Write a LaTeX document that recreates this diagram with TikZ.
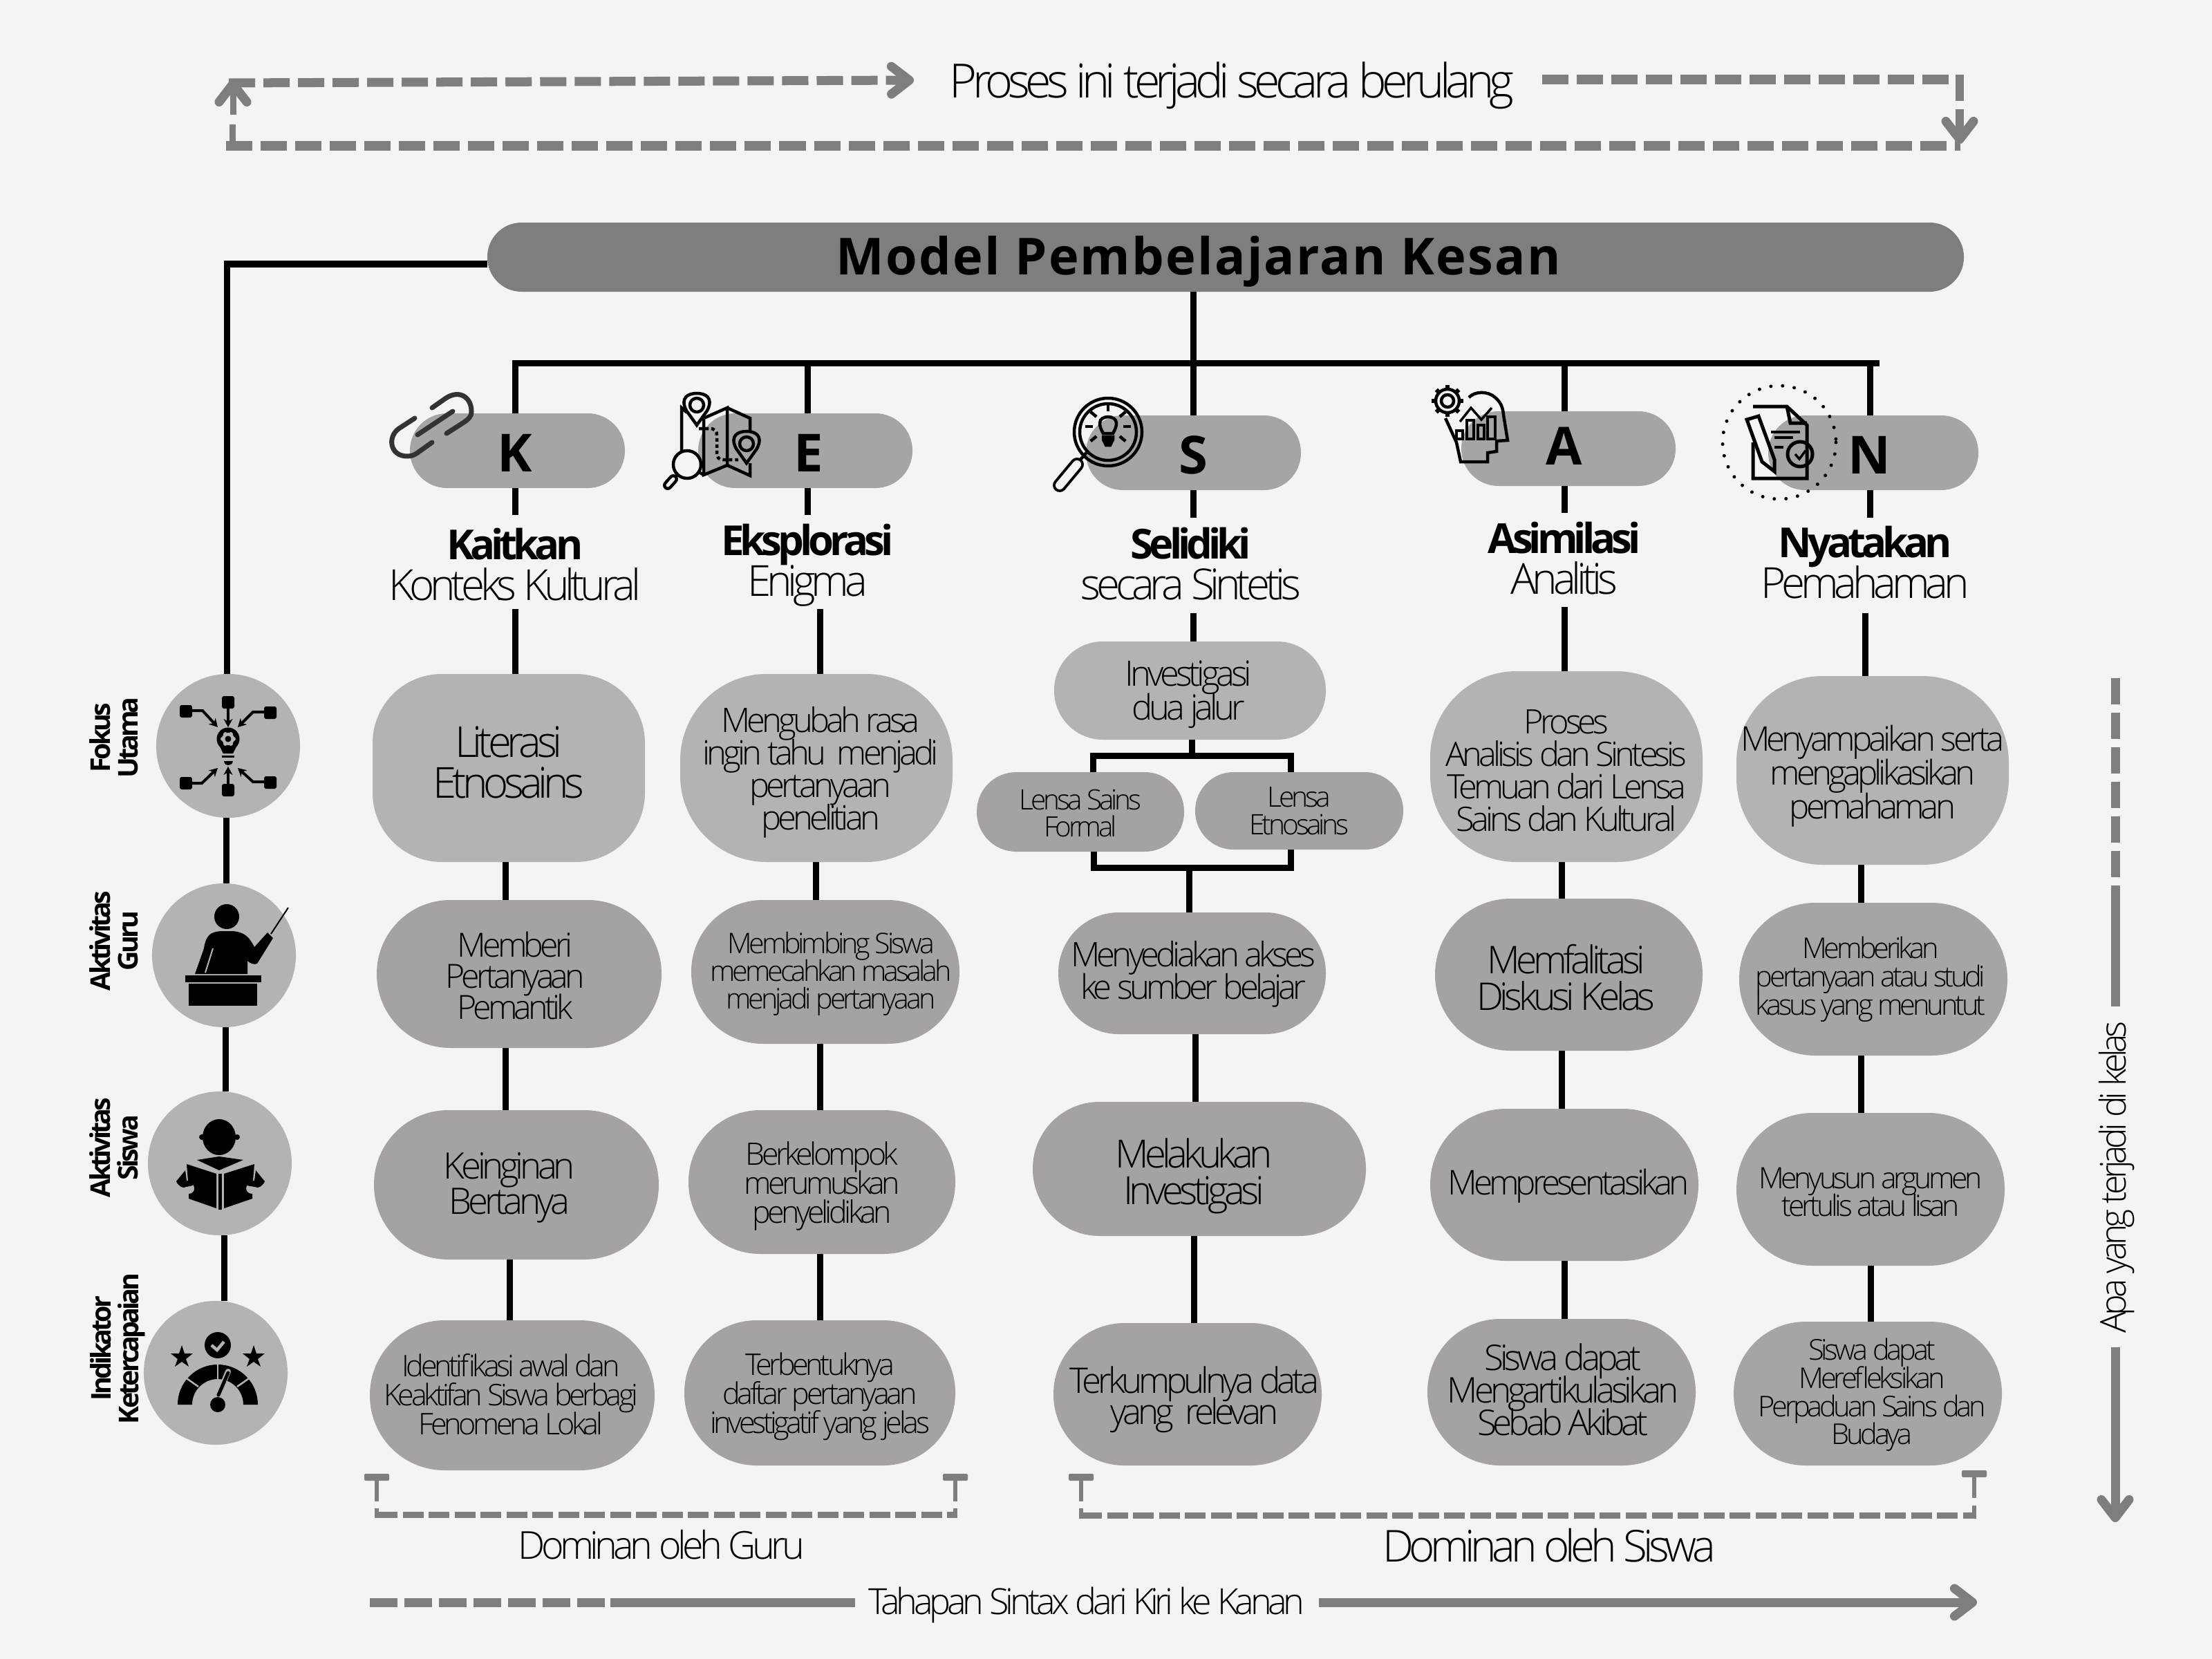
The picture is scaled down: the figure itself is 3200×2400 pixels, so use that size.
\documentclass[tikz,border=0pt]{standalone}
\usepackage{fontspec}
\usetikzlibrary{arrows.meta,backgrounds}
\lineskiplimit=-100pt
\newfontfamily\lightf[LetterSpace=-10]{Open Sans Light}
\newfontfamily\boldf[LetterSpace=-10]{Open Sans}
\newfontfamily\titlef[LetterSpace=3]{Open Sans}
\newfontfamily\letterf{Open Sans}
\newcommand\bh[1]{{\boldf\bfseries\fontsize{17}{16.8}\selectfont #1}}
\definecolor{bgc}{HTML}{F4F4F4}
\definecolor{dk}{HTML}{A5A2A1}
\definecolor{lg}{HTML}{B4B3B1}
\definecolor{nt}{HTML}{A5A5A5}
\definecolor{ttl}{HTML}{7F7D7E}
\definecolor{clip}{HTML}{333333}
\tikzset{
  pillbase/.style={shape=rectangle,inner sep=0pt,outer sep=0pt,align=center,text=black},
  dkp/.style={fill=dk},
  lgp/.style={fill=lg},
  ntp/.style={fill=nt},
  fs/.style 2 args={font=\lightf\fontsize{#1}{#2}\selectfont},
  rad/.style={rounded corners=#1*0.01cm},
  ln/.style={draw=black,line width=0.09cm},
  gdash/.style={draw=ttl,line width=0.13cm,dash pattern=on 0.38cm off 0.12cm},
  gsolid/.style={draw=ttl,line width=0.13cm},
  gthin/.style={draw=ttl,line width=0.06cm},
  barb/.style={-{Straight Barb[length=0.26cm,width=0.40cm,round,line width=0.13cm]}},
  hdr/.style={inner sep=0pt,align=center,font=\lightf\fontsize{17.6}{16.8}\selectfont},
  lett/.style={inner sep=0pt,font=\letterf\bfseries\fontsize{21.6}{22}\selectfont},
  sidelbl/.style={inner sep=0pt,rotate=90,align=center,font=\boldf\bfseries\fontsize{11.2}{11.4}\selectfont},
  icn/.style={draw=black,line width=0.045cm},
  circ/.style={shape=circle,fill=lg,inner sep=0pt,outer sep=0pt,minimum size=2.08cm},
}
\newcommand\shp[6]{%
  \pgfmathsetmacro\pcx{(#2+#3)/2}\pgfmathsetmacro\pcy{(#4+#5)/2}%
  \pgfmathsetmacro\pw{#3-#2}\pgfmathsetmacro\ph{#5-#4}\pgfmathsetmacro\prr{\ph/2-0.5}%
  \node[pillbase,minimum width={\pw*0.01cm},minimum height={\ph*0.01cm},rounded corners={\prr*0.01cm},#6] (#1) at (\pcx,\pcy) {};}
\newcommand\pill[9]{%
  \shp{#1}{#2}{#3}{#4}{#5}{#6}%
  \node[pillbase,#7] (#1t) at ([shift={(#9)}]\pcx,\pcy) {#8};}
\newcommand\conn[3]{\draw[ln] (#1.south -| #3,0) -- (#2.north -| #3,0);}
\begin{document}
\begin{tikzpicture}[x=0.01cm,y=-0.01cm]
\useasboundingbox (0,0) rectangle (3200,2400);
% title
\shp{title}{705}{2841}{322}{422}{fill=ttl}
\node[inner sep=0pt,font=\titlef\bfseries\fontsize{21}{22}\selectfont] (tt) at (1734,378) {Model Pembelajaran Kesan};
% letter pills
\shp{kp}{593}{904}{598}{706}{ntp}
\shp{ep}{1010}{1320}{598}{706}{ntp}
\shp{sp}{1571}{1882}{601}{709}{ntp}
\shp{ap}{2114}{2424}{595}{703}{ntp}
\shp{np}{2558}{2862}{601}{709}{ntp}
\node[lett] (kl) at (745,655) {K};
\node[lett] (el) at (1170,655) {E};
\node[lett] (sl) at (1726,658) {S};
\node[lett] (al) at (2263,645) {A};
\node[lett] (nl) at (2704,658) {N};
% headers
\node[hdr] (kh) at (745,817) {\bh{Kaitkan}\\Konteks Kultural};
\node[hdr] (eh) at (1168,818) {\bh{Eksplorasi}\\Enigma};
\node[hdr] (sh) at (1723,816) {\bh{Selidiki}\\secara Sintetis};
\node[hdr] (ah) at (2263,808) {\bh{Asimilasi}\\Analitis};
\node[hdr] (nh) at (2698,814) {\bh{Nyatakan}\\Pemahaman};
% column K
\pill{k1}{539}{933}{975}{1247}{lgp,rad=100}{fs={17.55}{16.8}}{Literasi\\Etnosains}{0,-8}
\pill{k2}{545}{957}{1302}{1516}{dkp}{fs={13.7}{12.8}}{Memberi\\Pertanyaan\\Pemantik}{-6,2}
\pill{k3}{541}{953}{1606}{1822}{dkp}{fs={15}{14.5}}{Keinginan\\Bertanya}{-10,4}
\pill{k4}{535}{947}{1910}{2127}{dkp}{fs={12.25}{11.9}}{Identifikasi awal dan\\Keaktifan Siswa berbagi\\Fenomena Lokal}{-2,-1}
% column E
\pill{e1}{984}{1378}{975}{1247}{lgp,rad=125}{fs={13.9}{13.4}}{Mengubah rasa\\ingin tahu\ \ menjadi\\pertanyaan\\penelitian}{6,6}
\pill{e2}{1000}{1388}{1302}{1510}{dkp}{fs={11.7}{11.4}}{Membimbing Siswa\\memecahkan masalah\\menjadi pertanyaan}{8,3}
\pill{e3}{996}{1382}{1606}{1814}{dkp}{fs={12.7}{11.9}}{Berkelompok\\merumuskan\\penyelidikan}{0,6}
\pill{e4}{990}{1382}{1910}{2120}{dkp}{fs={12.25}{11.9}}{Terbentuknya\\daftar pertanyaan\\investigatif yang jelas}{0,5}
% column S
\pill{s1}{1525}{1918}{928}{1070}{lgp}{fs={14.4}{13.9}}{Investigasi\\dua jalur}{-2,6}
\pill{s2a}{1413}{1713}{1117}{1232}{dkp}{fs={11.5}{11.3}}{Lensa Sains\\Formal}{0,2}
\pill{s2b}{1729}{2030}{1117}{1229}{dkp}{fs={11.6}{11.3}}{Lensa\\Etnosains}{0,0}
\pill{s3}{1531}{1918}{1320}{1496}{dkp}{fs={13.95}{13.4}}{Menyediakan akses\\ke sumber belajar}{2,1}
\pill{s4}{1494}{1976}{1594}{1788}{dkp}{fs={16}{15.1}}{Melakukan\\Investigasi}{-8,10}
\pill{s5}{1524}{1912}{1914}{2120}{dkp}{fs={14.5}{12.8}}{Terkumpulnya data\\yang\ \ relevan}{10,8}
% column A
\pill{a1}{2069}{2463}{971}{1247}{lgp,rad=125}{fs={13.85}{13.4}}{Proses\\Analisis dan Sintesis\\Temuan dari Lensa\\Sains dan Kultural}{0,6}
\pill{a2}{2076}{2463}{1300}{1520}{dkp}{fs={15.7}{15.1}}{Memfalitasi\\Diskusi Kelas}{-4,4}
\pill{a3}{2069}{2457}{1604}{1824}{dkp}{fs={14.05}{14}}{Mempresentasikan}{6,2}
\pill{a4}{2065}{2453}{1908}{2120}{dkp}{fs={14.55}{13.4}}{Siswa dapat\\Mengartikulasikan\\Sebab Akibat}{2,-4}
% column N
\pill{n1}{2512}{2906}{978}{1251}{lgp,rad=125}{fs={14}{13.9}}{Menyampaikan serta\\mengaplikasikan\\pemahaman}{0,8}
\pill{n2}{2516}{2904}{1306}{1527}{ntp}{fs={11.8}{11.6}}{Memberikan\\pertanyaan atau studi\\kasus yang menuntut}{-4,0}
\pill{n3}{2512}{2900}{1610}{1831}{ntp}{fs={12.1}{11.6}}{Menyusun argumen\\tertulis atau lisan}{0,4}
\pill{n4}{2508}{2896}{1912}{2120}{ntp}{fs={11.8}{11.6}}{Siswa dapat\\Merefleksikan\\Perpaduan Sains dan\\Budaya}{6,2}
% left circles
\node[circ] (c1) at (330,1079) {};
\node[circ] (c2) at (324,1382) {};
\node[circ] (c3) at (318,1683) {};
\node[circ] (c4) at (312,1986) {};
\node[sidelbl] (l1) at (165,1067) {Fokus\\Utama};
\node[sidelbl] (l2) at (165,1361) {Aktivitas\\Guru};
\node[sidelbl] (l3) at (165,1660) {Aktivitas\\Siswa};
\node[sidelbl] (l4) at (170,1951) {Indikator\\Ketercapaian};
% free texts
\node[inner sep=0pt,fs={19.4}{19}] (t1) at (1782,124) {Proses ini terjadi secara berulang};
\node[inner sep=0pt,fs={15.8}{15}] (t2) at (957,2235) {Dominan oleh Guru};
\node[inner sep=0pt,fs={18.1}{18}] (t3) at (2241,2236) {Dominan oleh Siswa};
\node[inner sep=0pt,fs={14.8}{14}] (t4) at (1572,2322) {Tahapan Sintax dari Kiri ke Kanan};
\node[inner sep=0pt,fs={14.65}{15},rotate=90] (t5) at (3062,1703) {Apa yang terjadi di kelas};
% named free ends
\coordinate (barL) at (745,525);
\coordinate (barR) at (2714,525);
\coordinate (ke) at (745,745);
\coordinate (ee) at (1168,745);
\coordinate (se) at (1726,749);
\coordinate (ae) at (2263,742);
\coordinate (ne) at (2705,749);
\coordinate (ks) at (745,881);
\coordinate (es) at (1186,881);
\coordinate (ss) at (1726,887);
\coordinate (as) at (2263,878);
\coordinate (ns) at (2698,887);
\begin{scope}[on background layer]
\fill[bgc] (0,0) rectangle (3200,2400);
\draw[ln,line cap=rect] (barL) -- (barR);
\draw[ln] (title.south -| 1726,0) -- (1726,525);
\draw[ln] (745,525) -- (kp.north -| 745,0);
\draw[ln] (1168,525) -- (ep.north -| 1168,0);
\draw[ln] (1726,525) -- (sp.north -| 1726,0);
\draw[ln] (2263,525) -- (ap.north -| 2263,0);
\draw[ln] (2705,525) -- (np.north -| 2705,0);
\draw[ln] (kp.south -| 745,0) -- (ke);
\draw[ln] (ep.south -| 1168,0) -- (ee);
\draw[ln] (sp.south -| 1726,0) -- (se);
\draw[ln] (ap.south -| 2263,0) -- (ae);
\draw[ln] (np.south -| 2705,0) -- (ne);
\draw[ln] (ks) -- (k1.north -| 745,0);
\draw[ln] (es) -- (e1.north -| 1186,0);
\draw[ln] (ss) -- (s1.north -| 1726,0);
\draw[ln] (as) -- (a1.north -| 2263,0);
\draw[ln] (ns) -- (n1.north -| 2698,0);
\conn{k1}{k2}{731}\conn{k2}{k3}{731}\conn{k3}{k4}{737}
\conn{e1}{e2}{1180}\conn{e2}{e3}{1186}\conn{e3}{e4}{1186}
\conn{s3}{s4}{1729}\conn{s4}{s5}{1727}
\conn{a1}{a2}{2259}\conn{a2}{a3}{2259}\conn{a3}{a4}{2263}
\conn{n1}{n2}{2692}\conn{n2}{n3}{2692}\conn{n3}{n4}{2706}
% S fork
\draw[ln] (s1.south -| 1724,0) -- (1724,1093);
\draw[ln] (s2a.north -| 1581,0) |- (1724,1093) -| (s2b.north -| 1867,0);
\draw[ln] (s2a.south -| 1582,0) |- (1720,1255) -| (s2b.south -| 1867,0);
\draw[ln] (1720,1255) -- (s3.north -| 1720,0);
% left spine
\draw[ln] (title.west |- 0,382) -- (328,382) -- (c1.north -| 328,0);
\draw[ln] (c1.south -| 327,0) -- (c2.north -| 327,0);
\draw[ln] (c2.south -| 326,0) -- (c3.north -| 326,0);
\draw[ln] (c3.south -| 324,0) -- (c4.north -| 324,0);
\end{scope}
% loop arrows
\coordinate (la) at (327,211); \coordinate (lb) at (2836,211);
\draw[gdash] (la) -- (lb);
\draw[draw=ttl,line width=0.09cm] (336,211) -- (336,180);
\draw[draw=ttl,line width=0.09cm,barb] (337,166) -- (337,115);
\draw[gdash,barb] (331,120) -- (1322,116);
\draw[gdash] (2231,115) -- (2820,115);
\draw[draw=ttl,line width=0.12cm] (2835,108) -- (2835,146);
\draw[draw=ttl,line width=0.12cm,barb] (2835,158) -- (2835,208);
% right vertical
\draw[gdash,dash pattern=on 0.38cm off 0.12cm] (3060,981) -- (3060,1312);
\draw[gsolid] (3060,1312) -- (3060,1456);
\draw[gsolid,barb] (3060,1949) -- (3060,2202);
% bottom arrow
\draw[gdash,dash pattern=on 0.40cm off 0.10cm] (535,2318) -- (878,2318);
\draw[gsolid] (883,2318) -- (1237,2318);
\draw[gsolid,barb] (1908,2318) -- (2860,2318);
% brackets
\foreach \bx/\by/\be in {545/2137/2172,1382/2137/2172,1564/2137/2172,2856/2132/2167}{
  \draw[gthin] (\bx,\by) -- (\bx,\be);
  \fill[ttl,rounded corners=0.02cm] (\bx-18,\by-5) rectangle (\bx+18,\by+5);
}
\draw[draw=ttl,line width=0.09cm,dash pattern=on 0.3cm off 0.075cm] (545,2191) -- (1382,2191);
\draw[gthin] (545,2182) -- (545,2196);
\draw[gthin] (1382,2182) -- (1382,2196);
\draw[draw=ttl,line width=0.09cm,dash pattern=on 0.3cm off 0.075cm] (1564,2192) -- (2856,2192);
\draw[gthin] (1564,2182) -- (1564,2197);
\draw[gthin] (2856,2178) -- (2856,2197);
% ---- icons
% paperclip
\begin{scope}[draw=clip,line width=0.07cm,line cap=round]
\draw (625,590) -- (645,576) .. controls (665,563) and (682,575) .. (682,595) .. controls (682,603) and (678,606) .. (671,611) -- (646,627);
\draw (600,605) -- (577,620) .. controls (560,632) and (564,660) .. (589,660) .. controls (595,660) and (600,658) .. (604,655) -- (625,640);
\draw (604,629) -- (655,595);
\end{scope}
% map
\begin{scope}[icn]
\draw (986,653) -- (986,590) -- (994,597);
\draw (1018,605) -- (1018,687) -- (1052,673) -- (1052,590) -- (1018,605);
\draw (1052,590) -- (1085,605) -- (1085,625);
\draw (1085,670) -- (1085,688) -- (1052,673);
\draw (1018,687) -- (1011,683);
\draw (1008,615) -- (993,594) .. controls (983,575) and (996,569) .. (1008,569) .. controls (1020,569) and (1033,575) .. (1023,594) -- cycle;
\draw (1008,586) circle[radius=10];
\draw (1080,670) -- (1065,649) .. controls (1055,630) and (1068,624) .. (1080,624) .. controls (1092,624) and (1105,630) .. (1095,649) -- cycle;
\draw (1080,642) circle[radius=10];
\draw[dash pattern=on 0.05cm off 0.04cm] (1011,620) -- (1026,620) .. controls (1035,620) and (1037,624) .. (1037,630) -- (1037,655) .. controls (1037,662) and (1040,665) .. (1046,665) -- (1068,665);
\draw (994,672) circle[radius=20];
\draw (981,686) -- (975,691);
\draw[line width=0.14cm,line cap=round] (974,693) -- (966,702);
\draw[draw=bgc,line width=0.05cm,line cap=round] (974,693) -- (966,702);
\end{scope}
% magnifier + bulb
\begin{scope}[icn]
\draw (1603,625) circle[radius=49];
\draw (1603,625) circle[radius=41];
\draw[line width=0.20cm,line cap=round] (1558,672) -- (1533,702);
\draw[draw=bgc,line width=0.12cm,line cap=round] (1558,672) -- (1533,702);
\draw (1574,652) -- (1562,666);
\draw (1596,627) .. controls (1592,620) and (1591,616) .. (1591,612) .. controls (1591,600) and (1615,600) .. (1615,612) .. controls (1615,616) and (1614,620) .. (1610,627) -- cycle;
\draw[fill=black] (1596,632) -- (1610,632) -- (1610,636) -- (1606,644) -- (1600,644) -- (1596,636) -- cycle;
\foreach \ang in {0,40,140,180,220,320}{\draw (1603,617) ++(\ang:22) -- ++(\ang:11);}
\draw (1603,595) -- (1603,584);
\end{scope}
% head + gear
\begin{scope}[icn]
\draw (2094,580) circle[radius=9];
\foreach \ang in {0,45,...,315}{\draw[line width=0.06cm] (2094,580) ++(\ang:18) -- ++(\ang:5);}
\draw (2094,580) circle[radius=17];
\draw (2125,575) .. controls (2133,566) and (2152,565) .. (2163,575) .. controls (2172,583) and (2174,590) .. (2175,600) -- (2181,637) -- (2165,638) -- (2165,653) -- (2152,655) -- (2152,668) -- (2113,668) -- (2107,640) -- (2091,605);
\draw[line width=0.035cm] (2107,623) rectangle (2116,635);
\draw[line width=0.035cm] (2122,608) rectangle (2132,635);
\draw[line width=0.035cm] (2138,615) rectangle (2147,635);
\draw[line width=0.035cm] (2152,603) rectangle (2163,635);
\draw[line width=0.035cm] (2112,610) -- (2128,590) -- (2143,607) -- (2158,590);
\end{scope}
% document + dotted ring
\draw[line width=0.05cm,line cap=round,dash pattern=on 0cm off 0.17cm] (2574,640) circle[radius=82];
\begin{scope}[icn,line width=0.05cm]
\draw (2536,588) -- (2585,588) -- (2614,615) -- (2614,692) -- (2536,692) -- (2536,640);
\draw (2585,588) -- (2590,612) -- (2614,612);
\draw (2527,607) -- (2544,602) -- (2567,665) -- (2567,682) -- (2549,668) -- cycle;
\draw[line width=0.035cm] (2562,625) -- (2604,625);
\draw[line width=0.035cm] (2567,633) -- (2594,633);
\draw[line width=0.035cm] (2567,647) -- (2580,647);
\draw (2604,657) circle[radius=18];
\draw[line width=0.035cm] (2597,657) -- (2603,664) -- (2612,652);
\end{scope}
% hub icon
\begin{scope}[line width=0.04cm,draw=black]
\foreach \px/\py in {330/1016,330/1143,269/1029,391/1031,269/1133,391/1132}{
  \fill[black,rounded corners=0.03cm] (\px-9,\py-9) rectangle (\px+9,\py+9);}
\tikzset{hubarr/.style={-{Stealth[length=0.12cm,width=0.13cm]}}}
\draw[hubarr] (330,1025) -- (330,1052);
\draw[hubarr] (330,1134) -- (330,1109);
\draw[hubarr] (278,1028) -- (293,1028) -- (315,1052);
\draw[hubarr] (382,1030) -- (366,1030) -- (344,1052);
\draw[hubarr] (278,1133) -- (292,1133) -- (315,1111);
\draw[hubarr] (382,1131) -- (366,1131) -- (344,1111);
\fill[black] (330,1069) circle[radius=16.5];
\fill[black] (318,1080) -- (342,1080) -- (337,1090) -- (323,1090) -- cycle;
\fill[lg] (330,1069) circle[radius=9];
\foreach \ang in {0,60,...,300}{\fill[lg] (330,1069) ++(\ang:8) circle[radius=3];}
\fill[black] (330,1069) circle[radius=4.5];
\draw[line width=0.03cm] (321,1094) -- (339,1094);
\fill[black] (324,1101) -- (337,1101) .. controls (336,1106) and (333,1107) .. (330,1107) .. controls (327,1107) and (325,1106) .. (324,1101) -- cycle;
\end{scope}
% teacher icon
\fill[black] (328,1326) ellipse[x radius=18,y radius=18];
\fill[black] (282,1409) -- (295,1372) .. controls (298,1352) and (305,1348) .. (320,1347) -- (336,1347) .. controls (352,1348) and (360,1354) .. (368,1370) -- (387,1349) -- (395,1357) -- (372,1394) .. controls (368,1396) and (362,1394) .. (358,1390) -- (358,1409) -- cycle;
\draw[lg,line width=0.02cm] (297,1407) -- (308,1372);
\draw[black,line width=0.02cm] (392,1351) -- (417,1313);
\fill[black] (268,1411) rectangle (378,1421);
\fill[black] (273,1423) rectangle (372,1455);
% student icon
\fill[black] (317,1645) ellipse[x radius=24,y radius=26];
\fill[black] (292,1645) circle[radius=4];
\fill[black] (343,1645) circle[radius=4];
\fill[black] (285,1678) -- (317,1673) -- (352,1678) -- (317,1693) -- cycle;
\fill[black] (270,1684) -- (313,1698) -- (313,1748) -- (273,1734) -- (273,1727) .. controls (284,1727) and (284,1712) .. (272,1708) -- cycle;
\fill[black] (368,1684) -- (324,1698) -- (324,1748) -- (365,1734) -- (365,1727) .. controls (353,1727) and (353,1712) .. (366,1708) -- cycle;
\fill[black] (316,1698) rectangle (321,1750);
\fill[black] (255,1709) -- (268,1693) -- (270,1708) .. controls (275,1708) and (280,1710) .. (280,1713) .. controls (280,1716) and (273,1716) .. (269,1717) .. controls (265,1720) and (258,1716) .. (255,1709) -- cycle;
\fill[black] (383,1709) -- (370,1693) -- (368,1708) .. controls (362,1708) and (356,1710) .. (356,1713) .. controls (356,1716) and (364,1716) .. (369,1717) .. controls (373,1720) and (380,1716) .. (383,1709) -- cycle;
% gauge icon
\fill[black] (315,1946) circle[radius=19];
\draw[lg,line width=0.045cm] (306,1946) -- (314,1953) -- (324,1941);
\foreach \sx in {263,367}{
  \fill[black] (\sx,1946) -- (\sx+4,1958) -- (\sx+16,1958) -- (\sx+6,1966) -- (\sx+10,1977) -- (\sx,1970) -- (\sx-10,1977) -- (\sx-6,1966) -- (\sx-16,1958) -- (\sx-4,1958) -- cycle;}
\begin{scope}[shift={(315,2032)},y=0.01cm]
\fill[black] (-58,0) arc[start angle=180,end angle=0,radius=58] -- (37,0) arc[start angle=0,end angle=180,radius=37] -- cycle;
\draw[lg,line width=0.025cm] (0,60) -- (0,36);
\draw[lg,line width=0.025cm] (-48,40) -- (-28,26);
\draw[lg,line width=0.025cm] (48,40) -- (28,26);
\draw[lg,line width=0.08cm,line cap=round] (1,14) -- (15,48);
\draw[black,line width=0.05cm,line cap=round] (1,14) -- (15,46);
\fill[black] (0,0) circle[radius=11];
\end{scope}
\end{tikzpicture}
\end{document}
